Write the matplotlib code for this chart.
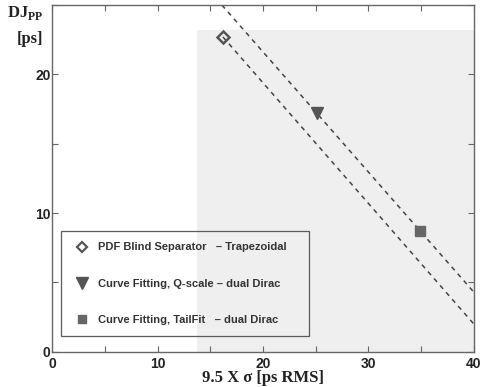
import matplotlib
matplotlib.use("Agg")
import matplotlib.pyplot as plt
from matplotlib.lines import Line2D
from matplotlib.patches import Rectangle

# measured points
methods = ["PDF Blind Separator   \u2013 Trapezoidal",
           "Curve Fitting, Q-scale \u2013 dual Dirac",
           "Curve Fitting, TailFit   \u2013 dual Dirac"]
sigma_x = [16.2, 25.1, 34.9]
dj_pp = [22.7, 17.2, 8.7]
markers = ["D", "v", "s"]

# dashed trend lines (endpoints)
upper_x = [16.1, 40.0]
upper_y = [25.0, 4.3]
lower_x = [16.2, 40.0]
lower_y = [22.7, 2.0]

x_ticks = [0, 10, 20, 30, 40]
y_ticks = [0, 10, 20]

fig = plt.figure(figsize=(4.87, 3.87), dpi=100)
ax = fig.add_axes([0.107, 0.091, 0.866, 0.896])

# scan shading behind right part of the plot
ax.add_patch(Rectangle((13.7, 0), 26.3, 23.2, facecolor="#efefef",
                       edgecolor="none", zorder=0))

ax.plot(upper_x, upper_y, ls=(0, (3, 3)), color="#444444", lw=1.1, zorder=2)
ax.plot(lower_x, lower_y, ls=(0, (3, 3)), color="#444444", lw=1.1, zorder=2)

ax.plot(sigma_x[0], dj_pp[0], marker="D", ms=6, mfc="none", mec="#555555",
        mew=1.8, zorder=3)
ax.plot(sigma_x[1], dj_pp[1], marker="v", ms=9, color="#555555", zorder=3)
ax.plot(sigma_x[2], dj_pp[2], marker="s", ms=7, color="#666666", zorder=3)

ax.set_xlim(0, 40)
ax.set_ylim(0, 25)
ax.set_xticks(x_ticks)
ax.set_yticks(y_ticks)
ax.set_xticks(range(5, 40, 10), minor=True)
ax.set_yticks([5, 15, 25], minor=True)
ax.tick_params(which="both", direction="in", top=True, right=True,
               length=4, width=0.8, color="#666666")
for lab in ax.get_xticklabels() + ax.get_yticklabels():
    lab.set_family("Liberation Sans")
    lab.set_fontweight("bold")
    lab.set_fontsize(10)
    lab.set_color("#222222")
ax.tick_params(axis="x", pad=3.5)
ax.tick_params(axis="y", pad=1)
for s in ax.spines.values():
    s.set_color("#666666")
    s.set_linewidth(1.0)

handles = [
    Line2D([], [], ls="none", marker="D", ms=5, mfc="none", mec="#555555", mew=1.6),
    Line2D([], [], ls="none", marker="v", ms=8, color="#555555"),
    Line2D([], [], ls="none", marker="s", ms=6, color="#666666"),
]
leg = ax.legend(handles, methods, loc="lower left",
                bbox_to_anchor=(0.021, 0.046, 0.588, 0.317), mode="expand",
                borderaxespad=0,
                prop={"family": "Liberation Sans", "weight": "bold", "size": 8},
                labelspacing=2.35, handletextpad=0.5, handlelength=1.8,
                borderpad=1.0, fancybox=False, facecolor="none", framealpha=None)
leg.get_frame().set_edgecolor("#333333")
leg.get_frame().set_linewidth(0.9)
for t in leg.get_texts():
    t.set_color("#333333")

fig.text(0.015, 0.955, r"DJ$_{\mathregular{PP}}$", family="Liberation Serif",
         weight="bold", fontsize=12, color="#222222")
fig.text(0.035, 0.89, "[ps]", family="Liberation Serif", weight="bold",
         fontsize=12, color="#222222")
ax.set_xlabel("9.5 X \u03c3 [ps RMS]", family="Liberation Serif",
              weight="bold", fontsize=12, color="#222222", labelpad=-0.5)

fig.savefig("out.png", dpi=100)
